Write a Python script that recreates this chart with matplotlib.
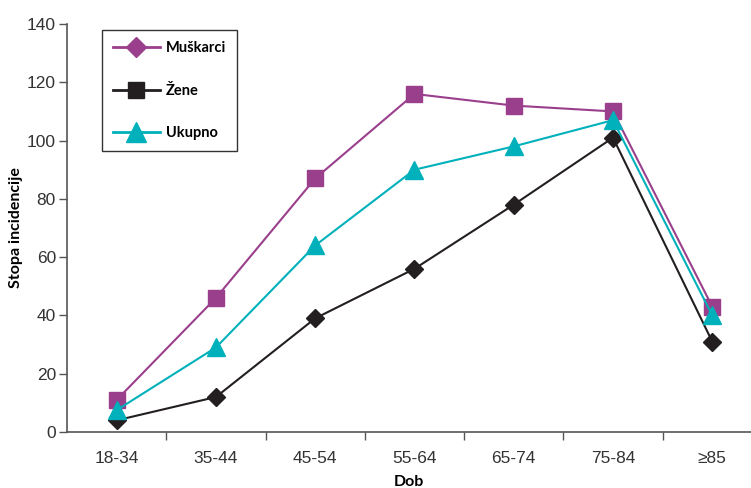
import matplotlib
matplotlib.use("Agg")
import matplotlib.pyplot as plt
from matplotlib.lines import Line2D
from matplotlib.ticker import FixedLocator, NullFormatter

groups = ["18-34", "35-44", "45-54", "55-64", "65-74", "75-84", "\u226585"]
muskarci = [11, 46, 87, 116, 112, 110, 43]
zene = [4, 12, 39, 56, 78, 101, 31]
ukupno = [7.5, 29, 64, 90, 98, 107, 40]

purple = "#9A3F8C"
black = "#231F20"
teal = "#00B1BB"
tick_font = ["Liberation Sans Narrow", "Liberation Sans", "DejaVu Sans"]
label_font = ["Lato", "DejaVu Sans"]


def main():
	fig = plt.figure(figsize=(7.51, 4.88), dpi=100)
	ax = fig.add_axes([67 / 751, 56 / 488, 684 / 751, 408 / 488])
	x = list(range(len(groups)))

	ax.plot(x, muskarci, color=purple, lw=1.5, marker="s", ms=11.5, mec=purple, zorder=3)
	ax.plot(x, zene, color=black, lw=1.5, marker="D", ms=8.7, mec=black, zorder=4)
	ax.plot(x, ukupno, color=teal, lw=1.5, marker="^", ms=13, mec=teal, zorder=5)

	ax.set_xlim(-0.5, 6.39)
	ax.set_ylim(0, 140)
	ax.set_yticks(range(0, 141, 20))
	ax.set_xticks(x)
	ax.set_xticklabels(groups)
	ax.xaxis.set_minor_locator(FixedLocator([i + 0.5 for i in range(6)]))
	ax.xaxis.set_minor_formatter(NullFormatter())
	ax.tick_params(axis="x", which="major", length=0, pad=14)
	ax.tick_params(axis="x", which="minor", length=6, width=1, color="#555555")
	ax.tick_params(axis="y", length=6, width=1, color="#555555", pad=2)
	for lab in ax.get_xticklabels() + ax.get_yticklabels():
		lab.set_family(tick_font)
		lab.set_fontsize(12.5)
		lab.set_color("#333333")

	for s in ["top", "right"]:
		ax.spines[s].set_visible(False)
	for s in ["left", "bottom"]:
		ax.spines[s].set_color("#555555")
		ax.spines[s].set_linewidth(1.2)

	ax.set_ylabel("Stopa incidencije", family=label_font, fontweight="bold", fontsize=11.5, labelpad=3)
	ax.set_xlabel("Dob", family=label_font, fontweight="bold", fontsize=11.5, labelpad=6)

	# legend markers as in the original figure
	handles = [
		Line2D([], [], color=purple, lw=2, marker="D", ms=10, mec=purple),
		Line2D([], [], color=black, lw=2, marker="s", ms=11, mec=black),
		Line2D([], [], color=teal, lw=2, marker="^", ms=14, mec=teal),
	]
	leg = ax.legend(handles, ["Muškarci", "Žene", "Ukupno"], loc="upper left",
		bbox_to_anchor=(0.045, 0.995), fancybox=False, edgecolor="#333333",
		framealpha=1, handlelength=3.2, labelspacing=1.95, borderpad=0.75,
		borderaxespad=0.3, handletextpad=0.4,
		prop={"family": label_font, "weight": "bold", "size": 10.5})
	leg.get_frame().set_linewidth(1.0)

	fig.savefig("out.png", dpi=100)


if __name__ == '__main__':
	main()
